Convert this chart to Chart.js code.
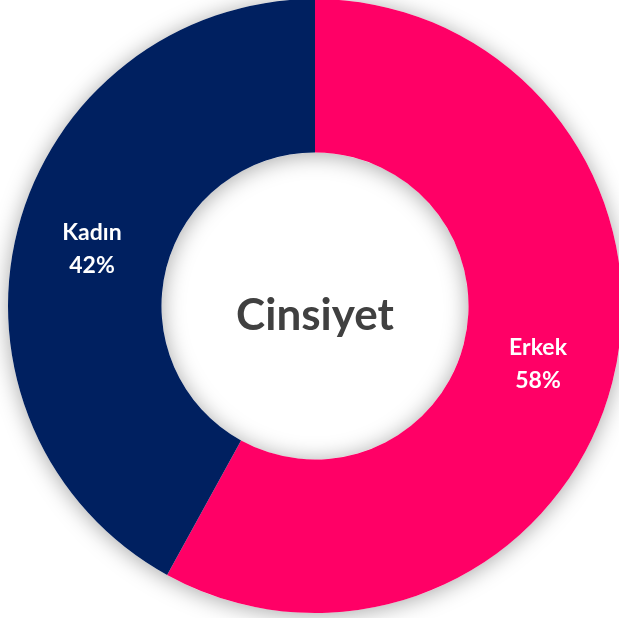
<!DOCTYPE html>
<html>
<head>
<meta charset="utf-8">
<script src="https://cdn.jsdelivr.net/npm/chart.js@4/dist/chart.umd.min.js"></script>
<style>
  html, body { margin: 0; padding: 0; background: #ffffff; overflow: hidden; width: 619px; height: 618px; }
  #wrap { position: absolute; left: -10px; top: -19px; width: 650px; height: 650px; }
</style>
</head>
<body>
<div id="wrap"><canvas id="c" width="650" height="650"></canvas></div>
<script>
const categories = ["Erkek", "Kadın"];
const percents = [58, 42];
const colors = ["#FF0066", "#002060"];
const centerTitle = "Cinsiyet";

const shadowPlugin = {
  id: 'ringShadow',
  beforeDatasetsDraw(chart) {
    const meta = chart.getDatasetMeta(0);
    const a = meta.data[0];
    if (!a) return;
    const {x, y, innerRadius, outerRadius} = a.getProps(['x','y','innerRadius','outerRadius'], true);
    const ctx = chart.ctx;
    ctx.save();
    ctx.beginPath();
    ctx.arc(x, y, outerRadius, 0, Math.PI * 2);
    ctx.arc(x, y, innerRadius, 0, Math.PI * 2, true);
    ctx.closePath();
    ctx.shadowColor = 'rgba(0,0,0,0.35)';
    ctx.shadowBlur = 22;
    ctx.shadowOffsetX = 0;
    ctx.shadowOffsetY = 2;
    ctx.fillStyle = '#ffffff';
    ctx.fill();
    ctx.restore();
  },
  afterDatasetsDraw(chart) {
    const meta = chart.getDatasetMeta(0);
    const ctx = chart.ctx;
    const a0 = meta.data[0];
    const {x, y} = a0.getProps(['x','y'], true);
    ctx.save();
    ctx.fillStyle = '#404040';
    ctx.font = 'bold 44px Lato, "Open Sans", sans-serif';
    ctx.textAlign = 'center';
    ctx.textBaseline = 'middle';
    ctx.fillText(centerTitle, x, y + 10);
    ctx.fillStyle = '#ffffff';
    ctx.font = 'bold 23px Lato, "Open Sans", sans-serif';
    meta.data.forEach((arc, i) => {
      const p = arc.getCenterPoint();
      ctx.fillText(categories[i], p.x, p.y - 16);
      ctx.fillText(percents[i] + '%', p.x, p.y + 17);
    });
    ctx.restore();
  }
};

new Chart(document.getElementById('c'), {
  type: 'doughnut',
  data: {
    labels: categories,
    datasets: [{
      data: percents,
      backgroundColor: colors,
      borderWidth: 0,
      hoverOffset: 0
    }]
  },
  options: {
    responsive: false,
    animation: false,
    cutout: '50%',
    layout: { padding: 18 },
    plugins: { legend: { display: false }, tooltip: { enabled: false } }
  },
  plugins: [shadowPlugin]
});
</script>
</body>
</html>
